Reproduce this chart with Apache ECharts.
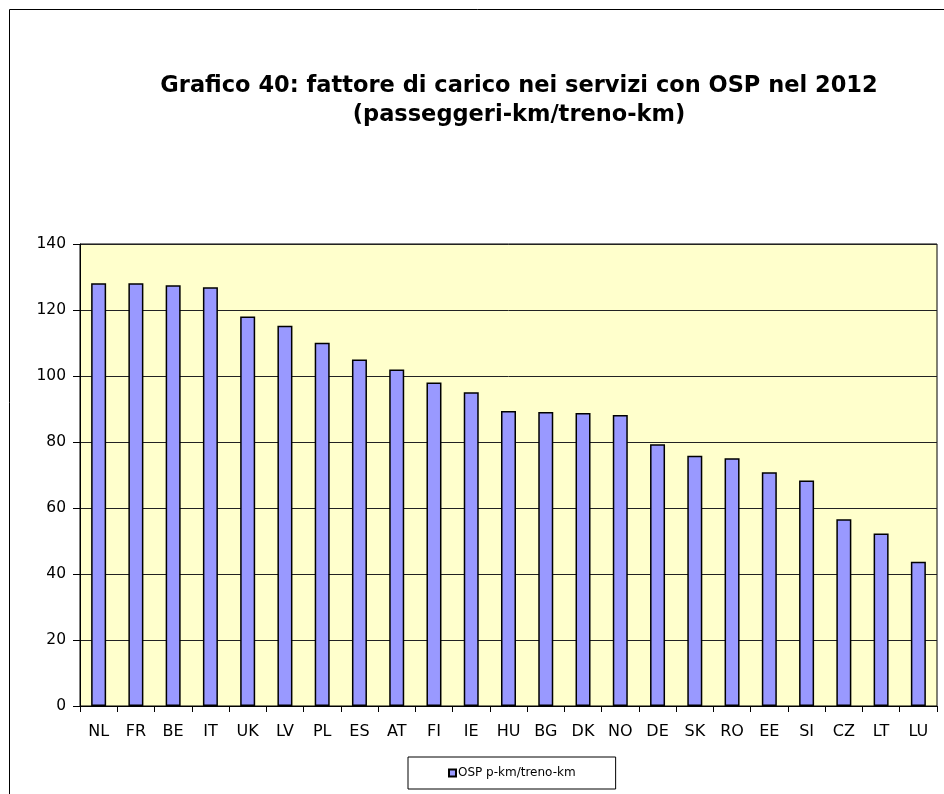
<!DOCTYPE html>
<html>
<head>
<meta charset="utf-8">
<script src="https://cdn.jsdelivr.net/npm/echarts@6/dist/echarts.min.js"></script>
<style>
  html, body { margin: 0; padding: 0; background: #fff; }
  #chart { width: 944px; height: 794px; }
</style>
</head>
<body>
<div id="chart"></div>
<script>
// paesi e fattore di carico (passeggeri-km/treno-km)
const countries = ['NL', 'FR', 'BE', 'IT', 'UK', 'LV', 'PL', 'ES', 'AT', 'FI', 'IE', 'HU',
  'BG', 'DK', 'NO', 'DE', 'SK', 'RO', 'EE', 'SI', 'CZ', 'LT', 'LU']
const loadFactor = [128.1, 128.1, 127.5, 126.9, 118.0, 115.2, 110.1, 105.0, 102.0, 98.0, 95.1, 89.4,
  89.1, 88.8, 88.2, 79.3, 75.8, 75.1, 70.8, 68.3, 56.6, 52.3, 43.7]
const seriesName = 'OSP p-km/treno-km'
const titleText = 'Grafico 40: fattore di carico nei servizi con OSP nel 2012\n(passeggeri-km/treno-km)'

const font = 'DejaVu Sans, Verdana, sans-serif'
const myChart = echarts.init(document.getElementById('chart'))
const option = {
  animation: false,
  backgroundColor: '#fff',
  graphic: [
    {
      type: 'rect',
      shape: { x: 9.5, y: 9.5, width: 1000, height: 1000 },
      style: { fill: 'none', stroke: '#000', lineWidth: 1 },
      silent: true
    }
  ],
  title: {
    text: titleText,
    left: 514,
    top: 67,
    textAlign: 'center',
    textStyle: {
      fontFamily: font,
      fontWeight: 'bold',
      fontSize: 22.5,
      lineHeight: 29,
      color: '#000'
    }
  },
  grid: {
    left: 80,
    right: 7,
    top: 244,
    bottom: 88,
    show: true,
    backgroundColor: '#FFFFCC',
    borderColor: '#000',
    borderWidth: 1
  },
  legend: {
    data: [seriesName],
    left: 408,
    top: 757,
    padding: [10, 40],
    borderColor: '#000',
    borderWidth: 1,
    itemWidth: 7,
    itemHeight: 7,
    itemGap: 0,
    icon: 'rect',
    textStyle: { fontFamily: font, fontSize: 12, color: '#000', padding: [0, 0, 0, -3] }
  },
  xAxis: {
    type: 'category',
    data: countries,
    axisLine: { lineStyle: { color: '#000', width: 1 } },
    axisTick: { show: true, length: 6, lineStyle: { color: '#000' } },
    axisLabel: { fontFamily: font, fontSize: 16, color: '#000', margin: 18 }
  },
  yAxis: {
    type: 'value',
    min: 0,
    max: 140,
    interval: 20,
    axisLine: { show: true, lineStyle: { color: '#000', width: 1 } },
    axisTick: { show: true, length: 7, lineStyle: { color: '#000' } },
    axisLabel: { fontFamily: font, fontSize: 15.5, color: '#000', margin: 14 },
    splitLine: { lineStyle: { color: '#222', width: 1 } }
  },
  series: [
    {
      name: seriesName,
      type: 'bar',
      data: loadFactor,
      barWidth: 15,
      itemStyle: {
        color: '#9999FF',
        borderColor: '#000',
        borderWidth: 1.5
      }
    }
  ]
}
myChart.setOption(option)
</script>
</body>
</html>
